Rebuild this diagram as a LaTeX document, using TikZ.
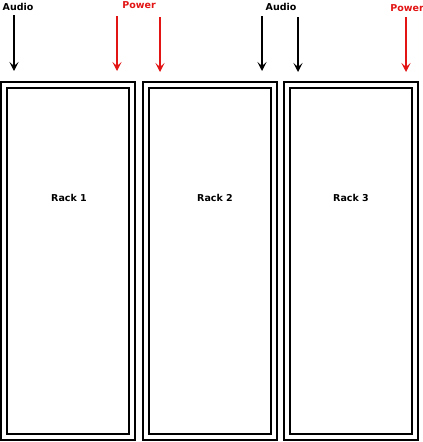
\documentclass[tikz,border=0pt]{standalone}
\usepackage{fontspec}
\setmainfont{DejaVu Sans}
\usetikzlibrary{arrows.meta}
\definecolor{powerred}{RGB}{226,20,20}
\begin{document}
\begin{tikzpicture}[
    x=1pt, y=-1pt,
    rack/.style={rectangle, draw, line width=2pt, double, double distance=4pt, minimum width=128pt, minimum height=352pt, inner sep=0pt},
    racklabel/.style={font=\bfseries\fontsize{9.5}{11}\selectfont},
    feed/.style={line width=1.5pt, -{Stealth[length=9pt, width=9pt, inset=4pt]}},
    audio/.style={feed, black},
    power/.style={feed, powerred},
    feedlabel/.style={font=\bfseries\fontsize{9.5}{11}\selectfont, inner sep=0pt}
]
    \useasboundingbox (0,0) rectangle (423,442);

    \node[rack] (rack1) at (68,261) {};
    \node[rack] (rack2) at (209.5,261) {};
    \node[rack] (rack3) at (351,261) {};
    \node[racklabel] (rack1label) at (69,198) {Rack 1};
    \node[racklabel] (rack2label) at (215,198) {Rack 2};
    \node[racklabel] (rack3label) at (351,198) {Rack 3};

    \node[feedlabel] (audiolabel1) at (18,7) {Audio};
    \node[feedlabel, text=powerred] (powerlabel1) at (139,5) {Power};
    \node[feedlabel] (audiolabel2) at (281,7) {Audio};
    \node[feedlabel, text=powerred] (powerlabel2) at (407,8) {Power};

    \coordinate (audio1top) at (14,15);
    \coordinate (audio1end) at (14,71);
    \coordinate (power1top) at (117,16);
    \coordinate (power1end) at (117,71);
    \coordinate (power2top) at (160,17);
    \coordinate (power2end) at (160,72);
    \coordinate (audio2top) at (262,16);
    \coordinate (audio2end) at (262,71);
    \coordinate (audio3top) at (298,17);
    \coordinate (audio3end) at (298,72);
    \coordinate (power3top) at (406,17);
    \coordinate (power3end) at (406,72);

    \draw[audio] (audio1top) -- (audio1end);
    \draw[power] (power1top) -- (power1end);
    \draw[power] (power2top) -- (power2end);
    \draw[audio] (audio2top) -- (audio2end);
    \draw[audio] (audio3top) -- (audio3end);
    \draw[power] (power3top) -- (power3end);
\end{tikzpicture}
\end{document}
